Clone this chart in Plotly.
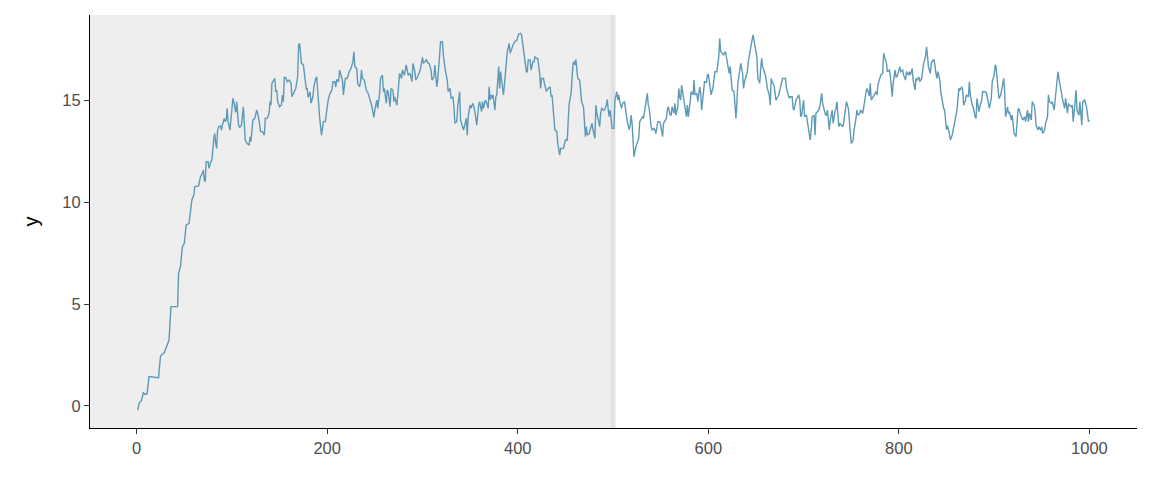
import plotly.graph_objects as go

# Time steps and values
step = [
    1, 3, 5, 7, 9, 11, 13, 23, 25, 27,
    29, 32, 34, 35, 36, 43, 44, 46, 48, 50,
    52, 55, 57, 58, 60, 61, 63, 65, 67, 69,
    70, 71, 72, 73, 75, 76, 78, 79, 81, 82,
    83, 84, 85, 86, 88, 89, 90, 92, 93, 94,
    95, 96, 98, 99, 101, 102, 104, 105, 106, 107,
    108, 110, 112, 113, 114, 116, 118, 119, 120, 122,
    124, 126, 127, 129, 130, 132, 134, 135, 137, 139,
    140, 141, 142, 144, 145, 146, 147, 148, 150, 152,
    153, 154, 155, 157, 158, 160, 162, 163, 165, 167,
    169, 170, 171, 173, 175, 176, 178, 179, 180, 182,
    183, 185, 186, 188, 189, 190, 191, 192, 194, 195,
    196, 198, 200, 201, 203, 205, 206, 208, 209, 210,
    212, 213, 215, 216, 217, 219, 221, 222, 223, 225,
    227, 228, 229, 231, 232, 234, 235, 236, 237, 239,
    240, 241, 243, 244, 245, 247, 248, 249, 250, 252,
    253, 255, 256, 258, 259, 260, 262, 263, 264, 266,
    267, 269, 270, 271, 273, 274, 276, 278, 279, 281,
    283, 284, 285, 287, 289, 290, 292, 293, 295, 297,
    298, 300, 301, 303, 304, 306, 307, 309, 310, 312,
    313, 315, 316, 318, 319, 321, 322, 324, 326, 327,
    329, 330, 332, 333, 334, 336, 337, 339, 340, 341,
    343, 344, 346, 347, 348, 350, 351, 352, 353, 355,
    356, 357, 359, 360, 362, 363, 364, 366, 367, 369,
    370, 371, 372, 373, 374, 376, 377, 378, 380, 381,
    382, 383, 385, 386, 388, 389, 391, 392, 394, 395,
    397, 399, 401, 403, 404, 406, 407, 409, 410, 411,
    413, 414, 416, 417, 418, 420, 421, 423, 424, 425,
    427, 428, 430, 431, 432, 434, 435, 436, 437, 438,
    439, 441, 442, 444, 445, 447, 448, 450, 452, 453,
    454, 456, 457, 458, 459, 460, 461, 462, 463, 465,
    466, 467, 469, 470, 471, 472, 473, 475, 476, 478,
    479, 480, 481, 482, 483, 485, 486, 487, 488, 490,
    491, 493, 494, 495, 496, 497, 498, 499, 501, 502,
    504, 505, 506, 507, 509, 510, 512, 513, 514, 515,
    517, 518, 519, 520, 521, 522, 524, 525, 527, 528,
    529, 531, 532, 534, 535, 536, 537, 538, 540, 541,
    543, 544, 545, 547, 549, 550, 552, 553, 555, 556,
    557, 558, 560, 561, 562, 564, 565, 566, 568, 569,
    570, 571, 572, 574, 575, 577, 578, 579, 581, 582,
    584, 585, 586, 588, 589, 591, 592, 593, 595, 596,
    598, 599, 600, 602, 603, 605, 606, 607, 609, 611,
    612, 613, 615, 616, 618, 619, 620, 622, 623, 624,
    625, 627, 628, 629, 630, 631, 633, 634, 636, 637,
    638, 640, 641, 642, 644, 645, 647, 648, 649, 651,
    652, 654, 655, 656, 657, 659, 660, 661, 662, 664,
    665, 666, 667, 669, 670, 671, 673, 674, 675, 677,
    678, 680, 681, 682, 684, 685, 686, 688, 689, 690,
    692, 693, 695, 696, 697, 698, 700, 701, 703, 704,
    706, 707, 708, 709, 711, 712, 713, 715, 716, 717,
    719, 720, 721, 723, 724, 725, 727, 728, 730, 731,
    733, 734, 735, 737, 738, 740, 741, 742, 744, 745,
    747, 748, 749, 750, 752, 753, 755, 756, 757, 759,
    760, 762, 763, 764, 766, 767, 769, 770, 771, 773,
    774, 776, 777, 778, 780, 781, 783, 784, 785, 787,
    788, 790, 791, 792, 793, 794, 796, 797, 798, 800,
    801, 802, 804, 805, 807, 808, 810, 811, 812, 814,
    815, 817, 818, 819, 821, 822, 824, 825, 826, 828,
    829, 830, 831, 833, 834, 836, 837, 839, 840, 841,
    843, 844, 846, 847, 848, 850, 851, 853, 854, 856,
    857, 859, 860, 861, 863, 864, 866, 867, 868, 870,
    871, 873, 874, 875, 877, 878, 880, 881, 882, 884,
    885, 887, 888, 889, 891, 892, 894, 895, 897, 898,
    900, 901, 902, 903, 904, 905, 907, 908, 910, 911,
    912, 914, 915, 916, 918, 919, 921, 922, 923, 925,
    926, 928, 929, 930, 932, 933, 935, 936, 937, 939,
    940, 942, 943, 944, 946, 947, 949, 950, 951, 953,
    954, 956, 957, 958, 960, 961, 963, 964, 965, 967,
    968, 970, 971, 972, 974, 975, 977, 978, 979, 981,
    982, 983, 985, 986, 987, 989, 990, 991, 992, 993,
    995, 997, 998, 999, 1000,
]

y_values = [
    -0.2, 0.18, 0.25, 0.65, 0.57, 0.6, 1.44, 1.39, 2.42, 2.55,
    2.61, 2.99, 3.23, 4.05, 4.87, 4.87, 6.5, 6.83, 7.81, 7.97,
    8.87, 8.95, 9.93, 10.1, 10.34, 10.75, 10.78, 10.78, 11.24, 11.4,
    11.57, 11.08, 11.0, 11.98, 11.98, 11.65, 11.98, 12.06, 13.12, 13.36,
    12.87, 12.63, 13.53, 13.69, 13.73, 13.53, 13.77, 14.1, 13.94, 14.02,
    14.59, 13.94, 13.53, 14.02, 15.08, 14.92, 14.4, 14.92, 14.18, 13.77,
    13.65, 13.77, 14.67, 14.02, 13.04, 12.87, 12.79, 13.2, 12.96, 14.02,
    14.1, 14.51, 14.35, 13.86, 13.45, 13.45, 13.28, 14.1, 14.1, 14.35,
    14.92, 14.75, 15.82, 15.98, 16.06, 15.41, 15.49, 14.92, 14.67, 14.75,
    15.25, 14.92, 16.14, 16.06, 15.9, 15.98, 15.82, 15.16, 15.33, 15.57,
    16.14, 17.7, 17.78, 16.8, 16.72, 16.31, 15.55, 15.57, 15.13, 15.41,
    14.84, 15.16, 15.65, 16.06, 16.14, 15.49, 14.75, 14.18, 13.28, 13.53,
    13.94, 13.94, 14.84, 15.0, 15.33, 15.49, 15.9, 15.9, 15.65, 16.01,
    15.9, 16.47, 16.14, 15.98, 15.25, 16.06, 16.06, 16.31, 16.39, 16.55,
    16.88, 17.37, 16.64, 16.55, 15.82, 15.65, 15.9, 16.47, 16.06, 15.98,
    15.73, 15.49, 15.33, 15.08, 15.0, 14.67, 14.35, 14.15, 14.51, 15.0,
    14.59, 15.33, 16.06, 16.22, 15.41, 15.57, 14.84, 15.49, 15.41, 14.67,
    15.57, 15.49, 14.92, 15.16, 14.75, 15.16, 16.31, 16.06, 16.47, 16.22,
    16.72, 16.47, 16.22, 16.31, 15.9, 16.8, 16.39, 15.98, 16.14, 16.39,
    16.55, 17.09, 16.8, 16.88, 17.0, 16.8, 16.8, 16.47, 15.98, 16.14,
    16.72, 15.65, 15.98, 17.2, 17.86, 17.86, 17.14, 16.47, 15.98, 15.41,
    15.57, 15.08, 15.16, 14.67, 13.86, 13.94, 14.67, 15.41, 14.02, 13.86,
    13.53, 13.69, 14.1, 13.28, 14.2, 14.75, 14.59, 14.75, 14.84, 14.43,
    14.02, 13.77, 14.75, 14.92, 14.43, 14.92, 14.59, 15.0, 14.92, 14.59,
    15.65, 15.0, 15.25, 15.08, 15.25, 14.51, 15.16, 15.25, 16.64, 15.57,
    16.39, 15.9, 15.25, 15.73, 16.72, 17.37, 17.78, 17.29, 17.55, 17.7,
    17.86, 17.94, 18.24, 18.27, 18.19, 17.61, 17.12, 16.39, 16.39, 16.96,
    16.96, 16.47, 16.88, 16.88, 17.12, 17.04, 17.04, 16.31, 15.57, 16.06,
    16.06, 15.82, 15.45, 15.49, 15.57, 15.65, 15.16, 15.25, 14.67, 13.94,
    13.53, 13.45, 12.87, 12.3, 12.63, 12.63, 12.63, 13.04, 13.04, 14.02,
    14.84, 15.33, 16.06, 16.8, 16.88, 16.72, 17.0, 16.64, 16.06, 15.98,
    15.49, 14.92, 14.67, 13.69, 13.2, 13.69, 13.28, 13.36, 13.53, 13.86,
    13.53, 13.28, 13.12, 14.75, 14.35, 13.94, 13.69, 14.35, 14.59, 14.51,
    14.51, 14.75, 15.03, 14.51, 14.18, 14.51, 14.02, 13.61, 13.61, 15.0,
    15.41, 15.0, 15.25, 14.92, 14.59, 14.84, 14.92, 14.59, 14.1, 13.94,
    13.55, 13.77, 14.26, 13.86, 13.04, 12.22, 12.71, 12.87, 13.12, 13.94,
    14.02, 14.18, 14.1, 14.67, 15.0, 15.33, 14.75, 14.59, 13.69, 13.53,
    13.61, 13.53, 13.36, 13.94, 13.94, 13.77, 13.2, 13.86, 14.02, 14.1,
    14.51, 14.67, 14.26, 14.26, 14.67, 14.35, 14.84, 14.26, 14.67, 15.57,
    15.16, 15.0, 15.73, 15.08, 14.67, 14.18, 14.75, 14.18, 14.92, 15.41,
    15.25, 15.98, 15.25, 15.33, 14.92, 15.65, 15.33, 14.51, 15.41, 15.9,
    15.86, 16.22, 16.27, 15.65, 15.25, 15.65, 16.22, 16.39, 16.39, 17.12,
    18.02, 17.37, 17.29, 17.2, 17.37, 17.12, 16.96, 16.31, 16.64, 16.06,
    15.49, 15.41, 14.67, 14.1, 14.84, 15.82, 16.47, 16.8, 16.31, 15.57,
    15.9, 16.22, 16.39, 16.88, 17.61, 17.7, 18.19, 17.86, 17.61, 17.12,
    16.06, 15.82, 16.55, 17.04, 16.64, 16.39, 16.22, 15.9, 15.57, 15.25,
    14.75, 16.06, 15.9, 15.73, 15.41, 15.0, 15.16, 15.25, 15.49, 15.98,
    16.06, 16.06, 16.06, 15.6, 15.3, 15.08, 15.16, 15.16, 14.59, 14.51,
    15.0, 15.08, 15.25, 15.0, 14.18, 14.26, 15.0, 14.18, 14.26, 13.94,
    13.36, 13.04, 13.53, 14.18, 14.26, 13.28, 14.35, 14.43, 14.51, 14.67,
    15.33, 14.84, 14.67, 14.26, 14.26, 14.51, 13.53, 14.02, 14.51, 13.86,
    14.43, 14.59, 14.92, 13.69, 13.86, 13.77, 13.69, 13.86, 14.43, 14.92,
    14.59, 14.1, 13.53, 12.87, 13.04, 13.53, 14.1, 14.51, 14.26, 14.35,
    14.51, 14.35, 14.59, 14.92, 15.53, 15.53, 15.2, 15.82, 15.0, 15.16,
    15.25, 15.41, 15.25, 15.73, 16.06, 16.22, 16.31, 17.29, 17.12, 16.8,
    16.39, 16.47, 16.22, 15.65, 15.16, 15.82, 16.47, 16.14, 16.14, 16.47,
    16.64, 16.39, 16.47, 16.22, 15.98, 16.39, 16.22, 16.39, 16.22, 16.55,
    15.98, 15.49, 16.06, 15.98, 16.14, 15.9, 16.06, 16.47, 16.8, 17.12,
    17.61, 17.2, 16.64, 16.31, 16.8, 16.96, 16.96, 16.31, 16.06, 16.39,
    15.98, 15.41, 14.67, 14.59, 14.51, 13.55, 13.75, 13.38, 13.04, 13.28,
    13.53, 14.02, 14.26, 14.51, 15.57, 15.49, 15.65, 15.49, 14.75, 15.0,
    15.25, 15.16, 15.9, 15.25, 14.75, 14.67, 14.18, 14.1, 15.08, 14.43,
    14.67, 15.0, 15.41, 15.41, 15.41, 15.33, 14.75, 14.59, 15.08, 15.9,
    16.22, 16.72, 16.64, 16.06, 15.25, 15.08, 15.25, 15.49, 16.06, 15.49,
    14.18, 14.67, 14.35, 14.43, 14.02, 14.26, 13.36, 13.28, 13.2, 14.51,
    14.59, 14.26, 14.1, 14.02, 14.18, 13.94, 14.51, 13.94, 14.35, 14.02,
    14.92, 14.75, 14.43, 13.77, 13.53, 13.69, 13.53, 13.69, 13.36, 13.53,
    13.86, 14.18, 15.25, 14.92, 14.84, 14.92, 14.51, 15.0, 15.65, 16.39,
    16.06, 15.49, 15.08, 15.0, 14.59, 15.08, 14.35, 14.84, 14.75, 14.67,
    14.75, 13.94, 14.92, 15.49, 14.51, 14.26, 14.92, 14.43, 13.77, 14.92,
    15.0, 14.67, 14.26, 13.94, 14.02,
]

assert len(step) == len(y_values), (len(step), len(y_values))

# Shaded "burn-in" window end and axis ranges
burn_in_end = 500
x_range = [-48.95, 1049.95]
y_range = [-1.08, 19.17]
x_ticks = [0, 200, 400, 600, 800, 1000]
y_ticks = [0, 5, 10, 15]

line_color = "#5E9AB6"

fig = go.Figure()
fig.add_trace(go.Scatter(
    x=step, y=y_values, mode="lines",
    line=dict(color=line_color, width=1.4),
    hoverinfo="x+y", showlegend=False,
))

fig.add_shape(type="rect", xref="x", yref="paper",
              x0=x_range[0], x1=burn_in_end, y0=0, y1=1,
              fillcolor="#EEEEEE", line=dict(width=0), layer="below")
fig.add_shape(type="rect", xref="x", yref="paper",
              x0=burn_in_end - 2.5, x1=burn_in_end + 2.5, y0=0, y1=1,
              fillcolor="#E1E1E1", line=dict(width=0), layer="below")

axis_common = dict(
    showgrid=False, zeroline=False, showline=True,
    linecolor="black", linewidth=1.1,
    ticks="outside", ticklen=5, tickwidth=1.1, tickcolor="#333333",
    tickfont=dict(family="Liberation Sans, Arial, sans-serif", size=16.5, color="#4D4D4D"),
)

fig.update_xaxes(range=x_range, tickvals=x_ticks, **axis_common)
fig.update_yaxes(range=y_range, tickvals=y_ticks,
                 title=dict(text="y", standoff=18,
                            font=dict(family="Liberation Sans, Arial, sans-serif",
                                      size=20, color="black")),
                 **axis_common)

# The page adds an 8 px body margin, so the figure is sized to fill the window
fig.update_layout(
    width=1144, height=472,
    margin=dict(l=82, r=15, t=7, b=52),
    paper_bgcolor="white", plot_bgcolor="white",
    font=dict(family="Liberation Sans, Arial, sans-serif"),
)

fig.write_html("out.html")
